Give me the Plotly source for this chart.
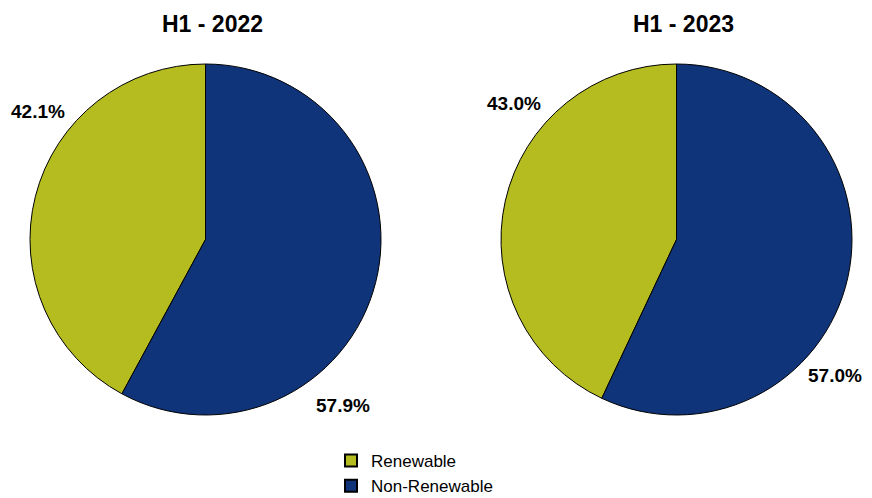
import plotly.graph_objects as go

labels = ["Renewable", "Non-Renewable"]
values_2022 = [42.1, 57.9]
values_2023 = [43.0, 57.0]
titles = ["H1 - 2022", "H1 - 2023"]
colors = ["#B4BC1F", "#10347A"]

W, H = 872, 498

def px_dom(x0, x1, y0, y1):
    return dict(x=[x0 / W, x1 / W], y=[1 - y1 / H, 1 - y0 / H])

fig = go.Figure()
doms = [px_dom(30, 381, 64, 415), px_dom(501, 852, 64, 415)]
for i, (vals, dom) in enumerate(zip([values_2022, values_2023], doms)):
    # Renewable slice ends at 12 o'clock, drawn clockwise
    rot = 360.0 - 360.0 * vals[0] / sum(vals)
    fig.add_trace(go.Pie(
        labels=labels, values=vals, domain=dom, sort=False,
        direction="clockwise", rotation=rot,
        marker=dict(colors=colors, line=dict(color="#000000", width=1)),
        textinfo="none", hoverinfo="label+percent",
        showlegend=(i == 0),
    ))

ann = []
title_x = [212, 683]
for t, x in zip(titles, title_x):
    ann.append(dict(text=t, x=x / W, y=1 - 24 / H, xref="paper", yref="paper",
                    xanchor="center", yanchor="middle", showarrow=False,
                    font=dict(family="Arial", size=23, color="#000000", weight="bold")))

label_pos = [[(38, 111), (343, 405)], [(514, 103), (835, 375)]]
for vals, poss in zip([values_2022, values_2023], label_pos):
    for v, (x, y) in zip(vals, poss):
        ann.append(dict(text=f"{v:.1f}%", x=x / W, y=1 - y / H, xref="paper", yref="paper",
                        xanchor="center", yanchor="middle", showarrow=False,
                        font=dict(family="Arial", size=19, color="#000000", weight="bold")))

fig.update_layout(
    width=W, height=H, margin=dict(l=0, r=0, t=0, b=0, autoexpand=False),
    paper_bgcolor="white", plot_bgcolor="white",
    annotations=ann,
    legend=dict(orientation="v", x=0.3796, xanchor="left", y=-0.012, yanchor="bottom",
                font=dict(family="Arial", size=17, color="#000000"),
                tracegroupgap=0, itemsizing="constant"),
)
fig.write_html("out.html")
